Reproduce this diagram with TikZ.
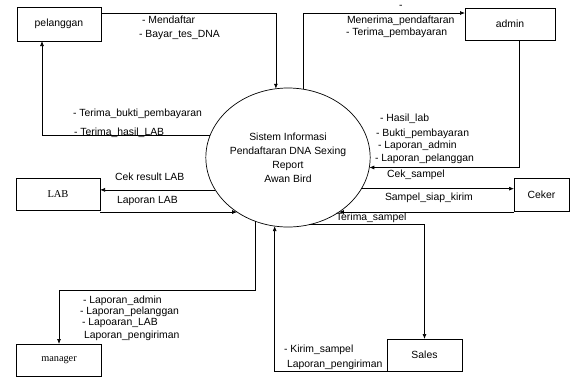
\documentclass[tikz,border=0pt]{standalone}
\usepackage{fontspec}
\setmainfont{Liberation Sans}
\newfontfamily\tnr{Liberation Serif}
\usetikzlibrary{arrows.meta,shapes.geometric}
\begin{document}
\begin{tikzpicture}[x=1pt,y=1pt,
  line width=0.7pt,
  font=\fontsize{10.4}{12}\selectfont,
  entity/.style={draw,rectangle,inner sep=0pt,outer sep=0pt},
  flow/.style={-{Latex[length=5pt,width=4pt]}},
  lbl/.style={anchor=base west,inner sep=0pt,outer sep=0pt}]
\useasboundingbox (0,0) rectangle (570,-376);
% process
\node[draw,ellipse,inner sep=0pt,outer sep=0pt,minimum width=120,minimum height=139,align=center,
  font=\fontsize{10.4}{14}\selectfont] (sys) at (288,-157.5)
  {Sistem Informasi\\Pendaftaran DNA Sexing\\Report\\Awan Bird};
% entities
\node[entity,minimum width=84,minimum height=34] (pel) at (59,-24) {pelanggan};
\node[entity,minimum width=90,minimum height=32] (adm) at (510,-24) {admin};
\node[entity,minimum width=84,minimum height=32,font=\tnr\fontsize{10.5}{12}\selectfont] (lab) at (58,-194) {LAB};
\node[entity,minimum width=55,minimum height=33] (cek) at (541.5,-194.5) {Ceker};
\node[entity,minimum width=85,minimum height=32,font=\tnr\fontsize{10.3}{12}\selectfont] (man) at (59,-360) {manager};
\node[entity,minimum width=75,minimum height=32] (sal) at (424.5,-355) {Sales};
% flows
\draw[flow] ([yshift=-6]pel.north east) -| (sys.100.85);
\draw[flow] (sys.164.2) -| ([xshift=-17]pel.south);
\draw[flow] (sys.77.4) |- ([yshift=-5]adm.north west);
\draw[flow] ([xshift=9]adm.south) |- (sys.-7.17);
\draw[flow] (sys.204.6) -- (sys.204.6 -| lab.east);
\draw[flow] (sys.227.3 -| lab.east) -- (sys.227.3);
\draw[flow] (sys.-23.6) -- (sys.-23.6 -| cek.west);
\draw[flow] (sys.-47.3 -| cek.west) -- (sys.-47.3);
\draw[flow] (sys.-73) -| (sal.north);
\draw[flow] (sal.south west) -| (sys.259.15);
\draw[flow] (sys.243.5) |- ([yshift=54]man.north) -- (man.north);
% labels
\node[lbl] (l1) at (142,-23.5) {- Mendaftar};
\node[lbl] (l2) at (139,-37.5) {- Bayar\_tes\_DNA};
\node[lbl] (l3) at (73,-116.5) {- Terima\_bukti\_pembayaran};
\node[lbl] (l4) at (74,-135.5) {- Terima\_hasil\_LAB};
\node[lbl] (l5) at (399,-8.5) {-};
\node[lbl] (l6) at (347,-23.5) {Menerima\_pendaftaran};
\node[lbl] (l7) at (346,-35.5) {- Terima\_pembayaran};
\node[lbl] (l8) at (380,-121.5) {- Hasil\_lab};
\node[lbl] (l9) at (376,-136.5) {- Bukti\_pembayaran};
\node[lbl] (l10) at (378,-148.5) {- Laporan\_admin};
\node[lbl] (l11) at (375,-161.5) {- Laporan\_pelanggan};
\node[lbl] (l12) at (115,-180.5) {Cek result LAB};
\node[lbl] (l13) at (117,-203.5) {Laporan LAB};
\node[lbl] (l14) at (387,-177.5) {Cek\_sampel};
\node[lbl] (l15) at (385,-200.5) {Sampel\_siap\_kirim};
\node[lbl] (l16) at (336,-220.5) {Terima\_sampel};
\node[lbl] (l17) at (83,-303.5) {- Laporan\_admin};
\node[lbl] (l18) at (80,-314.5) {- Laporan\_pelanggan};
\node[lbl] (l19) at (82,-325.5) {- Lapoaran\_LAB};
\node[lbl] (l20) at (84,-338.5) {Laporan\_pengiriman};
\node[lbl] (l21) at (284,-352.5) {- Kirim\_sampel};
\node[lbl] (l22) at (287,-367.5) {Laporan\_pengiriman};
\end{tikzpicture}
\end{document}
